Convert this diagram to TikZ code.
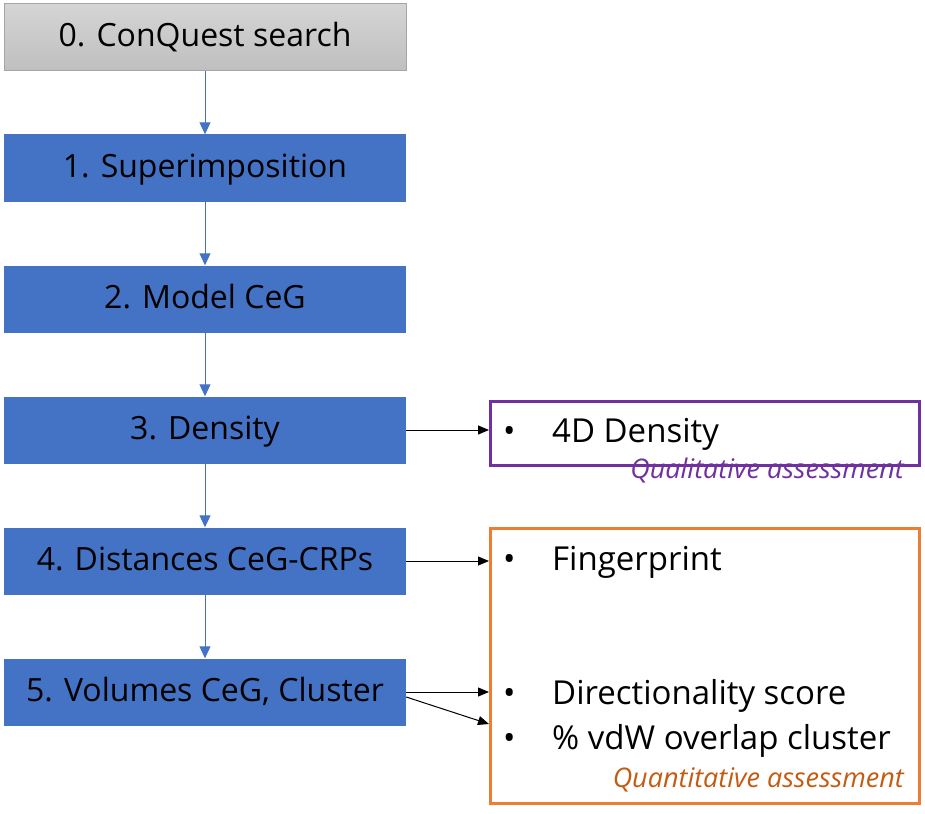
\documentclass[tikz,border=0pt]{standalone}
\usepackage{fontspec}
\setmainfont{Open Sans}
\usetikzlibrary{arrows.meta,positioning}

\definecolor{stepblue}{HTML}{4472C4}
\definecolor{qualpurple}{HTML}{7030A0}
\definecolor{quantorange}{HTML}{ED7D31}
\definecolor{quanttext}{HTML}{C55A11}
\definecolor{searchgray}{HTML}{A5A5A5}

\begin{document}
\begin{tikzpicture}[
  x=1pt, y=-1pt,
  font=\fontsize{32}{38}\selectfont,
  node distance=63.6pt,
  stage/.style={fill=stepblue, minimum width=402pt, minimum height=67pt, inner sep=0pt, text height=25pt, text depth=6pt},
  panel/.style={draw, line width=3pt, minimum width=429pt, inner sep=0pt},
  item/.style={anchor=base west, inner sep=0pt, font=\fontsize{33}{38}\selectfont},
  note/.style={anchor=base east, inner sep=0pt, font=\fontsize{27}{32}\selectfont\itshape},
  link/.style={-{Triangle[length=12pt,width=11pt]}, stepblue, line width=1pt},
  feed/.style={-{Triangle[length=11pt,width=9pt]}, line width=1pt}
]
\useasboundingbox (0,0) rectangle (925,813);

\node[stage, draw=searchgray, top color=gray!33, bottom color=gray!50] (search) at (205,37) {0. ConQuest search};
\node[stage, below=of search] (superpos) {1. Superimposition};
\node[stage, below=of superpos] (model) {2. Model CeG};
\node[stage, below=of model] (density) {3. Density};
\node[stage, below=of density] (distances) {4. Distances CeG-CRPs};
\node[stage, below=of distances] (volumes) {5. Volumes CeG, Cluster};

\draw[link] (search) -- (superpos);
\draw[link] (superpos) -- (model);
\draw[link] (model) -- (density);
\draw[link] (density) -- (distances);
\draw[link] (distances) -- (volumes);

% assessment panels
\node[panel, draw=qualpurple, minimum height=64pt] (qualbox) at (705,433.5) {};
\node[panel, draw=quantorange, minimum height=275pt] (quantbox) at (705,666) {};

\node[item] (bulletden) at (503,442) {•};
\node[item] (fourd) at (552,442) {4D Density};
\node[note, text=qualpurple] (qualnote) at (904,478) {Qualitative assessment};

\node[item] (bulletfp) at (503,570) {•};
\node[item] (finger) at (552,570) {Fingerprint};
\node[item] (bulletdir) at (503,704) {•};
\node[item] (direct) at (552,704) {Directionality score};
\node[item] (bulletvdw) at (503,749) {•};
\node[item] (vdw) at (552,749) {\% vdW overlap cluster};
\node[note, text=quanttext] (quantnote) at (904,787) {Quantitative assessment};

\coordinate (vdwin) at (489,724);
\draw[feed] (density.east) -- (density.east -| qualbox.west);
\draw[feed] (distances.east) -- (distances.east -| quantbox.west);
\draw[feed] (volumes.east) -- (volumes.east -| quantbox.west);
\draw[feed] ([yshift=-5pt]volumes.east) -- (vdwin);
\end{tikzpicture}
\end{document}
